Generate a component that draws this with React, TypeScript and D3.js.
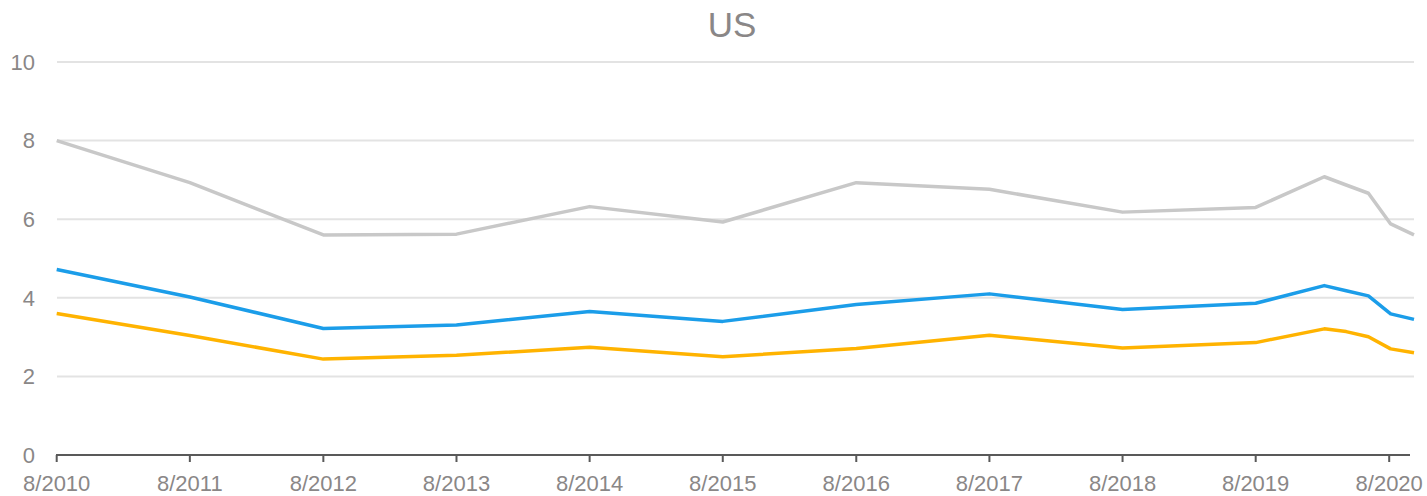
import React from "react";
import * as d3 from "d3";

const dates = [
  "2010-08-01", "2011-08-01", "2012-08-01", "2013-08-01", "2014-08-01",
  "2015-08-01", "2016-08-01", "2017-08-01", "2018-08-01", "2019-08-01",
  "2020-02-05", "2020-04-05", "2020-06-05", "2020-08-05", "2020-10-08",
];
const grayValues = [8.0, 6.93, 5.6, 5.62, 6.32, 5.93, 6.93, 6.76, 6.18, 6.3, 7.08, 6.87, 6.66, 5.88, 5.6];
const blueValues = [4.72, 4.02, 3.22, 3.31, 3.65, 3.4, 3.83, 4.1, 3.7, 3.86, 4.31, 4.18, 4.05, 3.59, 3.45];
const orangeValues = [3.6, 3.04, 2.44, 2.54, 2.74, 2.5, 2.71, 3.05, 2.72, 2.86, 3.21, 3.14, 3.01, 2.7, 2.6];
const yTicks = [0, 2, 4, 6, 8, 10];
const xTickDates = ["2010-08-01", "2011-08-01", "2012-08-01", "2013-08-01", "2014-08-01", "2015-08-01", "2016-08-01", "2017-08-01", "2018-08-01", "2019-08-01", "2020-08-01"];
const xTickLabels = ["8/2010", "8/2011", "8/2012", "8/2013", "8/2014", "8/2015", "8/2016", "8/2017", "8/2018", "8/2019", "8/2020"];
const title = "US";

const series = [
  { name: "gray", values: grayValues, color: "#C8C8C8" },
  { name: "blue", values: blueValues, color: "#1B9DE9" },
  { name: "orange", values: orangeValues, color: "#FFB300" },
];

export default function App() {
  const W = 1427, H = 496;
  const parse = d3.utcParse("%Y-%m-%d");
  const d = dates.map((s) => parse(s) as Date);
  const x = d3.scaleUtc()
    .domain([parse("2010-08-01") as Date, parse("2020-08-01") as Date])
    .range([56.7, 1389.2]);
  const y = d3.scaleLinear().domain([0, 10]).range([455, 62]);
  const xEnd = x(d[d.length - 1]);
  const textColor = "#8A8787";
  const font = "'Liberation Sans', Arial, sans-serif";

  return (
    <svg width={W} height={H} style={{ position: "absolute", left: 0, top: 0, background: "#fff" }} fontFamily={font}>
      <text x={732} y={37} textAnchor="middle" fontSize={35} fill={textColor}>{title}</text>
      {yTicks.map((t) => (
        <g key={t}>
          {t > 0 && (
            <line x1={57} x2={xEnd} y1={y(t)} y2={y(t)} stroke="#E3E3E3" strokeWidth={2} />
          )}
          <text x={35} y={y(t)} dy="0.35em" textAnchor="end" fontSize={22} fill={textColor}>{t}</text>
        </g>
      ))}
      {series.map((s) => {
        const line = d3.line<number>()
          .x((_, i) => x(d[i]))
          .y((v) => y(v));
        return (
          <path key={s.name} d={line(s.values) || ""} fill="none" stroke={s.color} strokeWidth={3.5} strokeLinejoin="round" />
        );
      })}
      <line x1={56} x2={1410} y1={455} y2={455} stroke="#595959" strokeWidth={2} />
      {xTickDates.map((td, i) => {
        const xx = x(parse(td) as Date);
        return (
          <g key={td}>
            <line x1={xx} x2={xx} y1={455} y2={462} stroke="#595959" strokeWidth={2} />
            <text x={xx} y={491} textAnchor="middle" fontSize={22} fill={textColor}>{xTickLabels[i]}</text>
          </g>
        );
      })}
    </svg>
  );
}
